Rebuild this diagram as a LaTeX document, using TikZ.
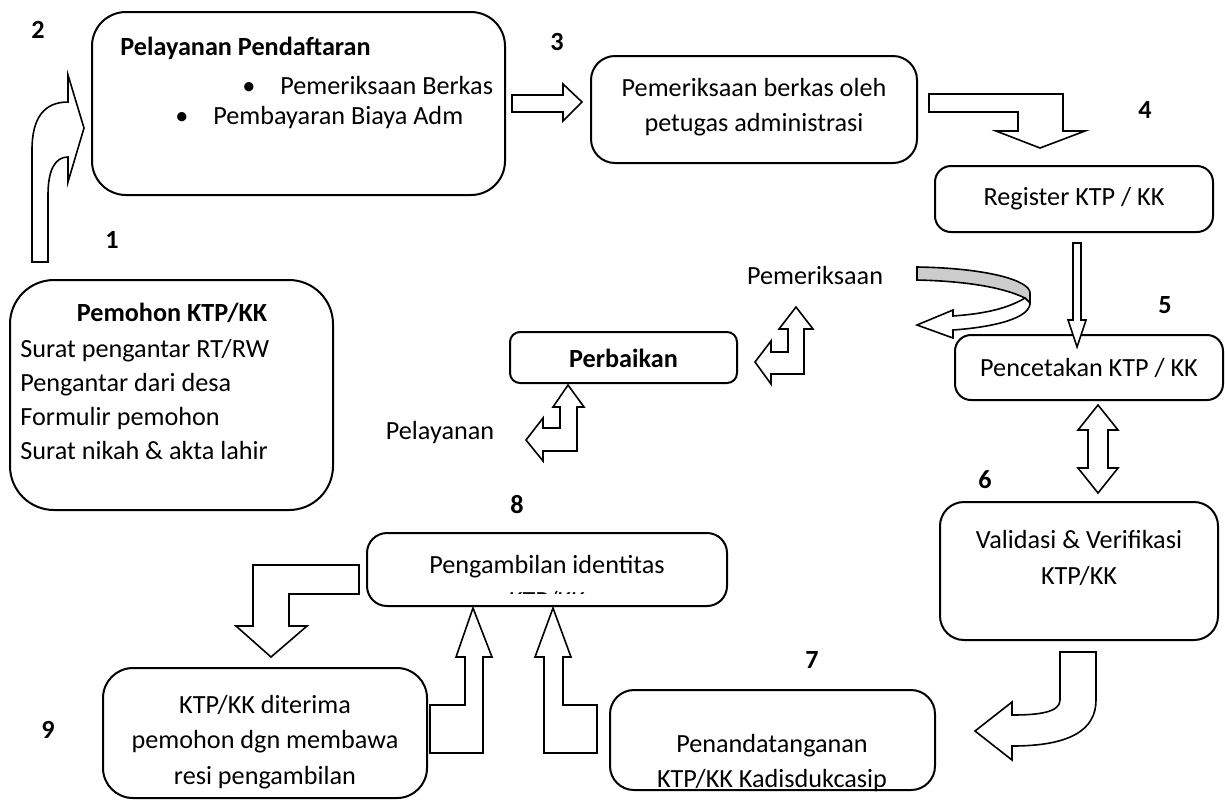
\documentclass[tikz,border=0pt]{standalone}
\usepackage{fontspec}
\setmainfont{Carlito}
\begin{document}
\begin{tikzpicture}[x=0.5pt, y=-0.5pt]
        \tikzstyle{box}=[draw, line width=1pt, rounded corners=12pt, inner sep=0pt]
        \tikzstyle{txt}=[font=\fontsize{13.1}{17.6}\selectfont, align=center, inner sep=0pt]
        \tikzstyle{num}=[font=\fontsize{13.1}{15}\selectfont\bfseries, inner sep=0pt]
        \tikzstyle{blockarrow}=[draw, line width=0.8pt, fill=white, line join=miter]

        \useasboundingbox (0,0) rectangle (1225,800);

        % boxes
        \node[box, rounded corners=22pt, minimum width=161.5pt, minimum height=115pt] (pemohon) at (171.5,395) {};
        \node[box, rounded corners=17pt, minimum width=206.5pt, minimum height=91.5pt] (daftar) at (298.5,103.5) {};
        \node[box, minimum width=163pt, minimum height=53.5pt] (periksa) at (754,109.5) {};
        \node[box, rounded corners=8pt, minimum width=139pt, minimum height=33pt] (register) at (1074,199) {};
        \node[box, rounded corners=8pt, minimum width=134pt, minimum height=32.5pt] (cetak) at (1089,367.5) {};
        \node[box, minimum width=139pt, minimum height=69pt] (validasi) at (1079,571) {};
        \node[box, minimum width=162.5pt, minimum height=50pt] (tanda) at (772.5,740) {};
        \node[box, rounded corners=10pt, minimum width=180pt, minimum height=36.5pt] (ambil) at (547,569.5) {};
        \node[box, rounded corners=15pt, minimum width=162pt, minimum height=65pt] (terima) at (265,733) {};
        \node[box, rounded corners=5pt, minimum width=113.5pt, minimum height=25.5pt] (perbaikan) at (623.5,357.5) {};

        % texts
        \node[txt] (pemohonJudul) at (172,313) {\bfseries Pemohon KTP/KK};
        \node[txt, align=left, anchor=west, font=\fontsize{13.1}{17}\selectfont] (pemohonIsi) at (20,399)
            {Surat pengantar RT/RW\\Pengantar dari desa\\Formulir pemohon\\Surat nikah \& akta lahir};
        \node[txt, anchor=west] (daftarJudul) at (120,48) {\bfseries Pelayanan Pendaftaran};
        \node[txt, anchor=west] (daftarBerkas) at (242,85) {\makebox[19pt][l]{\textbullet}Pemeriksaan Berkas};
        \node[txt, anchor=west] (daftarBiaya) at (175,118) {\makebox[19pt][l]{\textbullet}Pembayaran Biaya Adm};
        \node[txt] (periksaTxt) at (754,107) {Pemeriksaan berkas oleh\\petugas administrasi};
        \node[txt] (registerTxt) at (1074,199) {Register KTP / KK};
        \node[txt] (cetakTxt) at (1089,368) {Pencetakan KTP / KK};
        \node[txt] (validasiTxt) at (1079,558) {Validasi \& Verifikasi\\KTP/KK};
        \node[txt] (tandaTxt) at (772,763) {Penandatanganan\\KTP/KK Kadisdukcasip};
        \node[txt] (terimaTxt) at (265,742) {KTP/KK diterima\\pemohon dgn membawa\\resi pengambilan};
        \node[txt] (perbaikanTxt) at (623.5,358) {\bfseries Perbaikan};
        \begin{scope}
            \clip (367,533) rectangle (727,593);
            \node[txt] (ambilTxt) at (547,583) {Pengambilan identitas\\KTP/KK};
        \end{scope}
        \node[txt] (pemeriksaan) at (815,275) {Pemeriksaan};
        \node[txt] (pelayanan) at (440,433) {Pelayanan};

        % step numbers
        \node[num] (n1) at (112,240) {1};
        \node[num] (n2) at (38,30) {2};
        \node[num] (n3) at (557,42) {3};
        \node[num] (n4) at (1145,110) {4};
        \node[num] (n5) at (1165,305) {5};
        \node[num] (n6) at (985,480) {6};
        \node[num] (n7) at (812,660) {7};
        \node[num] (n8) at (517,505) {8};
        \node[num] (n9) at (48,730) {9};

        % block arrows
        \draw[blockarrow] (32,262) -- (32,150) .. controls (32,118) and (44,102) .. (68,102) -- (68,75) -- (84,128) -- (68,182) -- (68,157) .. controls (55,157) and (48,170) .. (48,195) -- (48,262) -- cycle;
        \draw[blockarrow] (512,95) -- (563,95) -- (563,84) -- (582,102) -- (563,121) -- (563,112) -- (512,112) -- cycle;
        \draw[blockarrow] (929,94) -- (1063,94) -- (1063,131) -- (1085,131) -- (1040,148) -- (996,131) -- (1018,131) -- (1018,112) -- (929,112) -- cycle;
        \draw[blockarrow] (1073,243) -- (1081,243) -- (1081,320) -- (1086,320) -- (1077,347) -- (1068,320) -- (1073,320) -- cycle;
        \draw[blockarrow] (1098,405) -- (1118,430) -- (1108,430) -- (1108,468) -- (1118,468) -- (1098,493) -- (1078,468) -- (1088,468) -- (1088,430) -- (1078,430) -- cycle;
        \draw[blockarrow] (1060,652) -- (1060,700) .. controls (1060,712) and (1040,715) .. (1012,715) -- (1012,702) -- (975,731) -- (1012,760) -- (1012,746) .. controls (1070,746) and (1096,730) .. (1096,700) -- (1096,652) -- cycle;
        \draw[blockarrow] (597,753) -- (544,753) -- (544,657) -- (535,657) -- (553,608) -- (571,657) -- (563,657) -- (563,705) -- (597,705) -- cycle;
        \draw[blockarrow] (430,705) -- (465,705) -- (465,657) -- (456,657) -- (473,608) -- (492,657) -- (483,657) -- (483,753) -- (430,753) -- cycle;
        \draw[blockarrow] (359,565) -- (359,594) -- (289,594) -- (289,626) -- (307,626) -- (271,657) -- (236,626) -- (253,626) -- (253,565) -- cycle;

        % perbaikan loop
        \draw[blockarrow] (755,362) -- (771,341) -- (771,352) -- (788,352) -- (788,329) -- (779,329) -- (796,307) -- (813,329) -- (804,329) -- (804,374) -- (771,374) -- (771,384) -- cycle;
        \draw[blockarrow] (568,385) -- (584,407) -- (577,407) -- (577,451) -- (543,451) -- (543,461) -- (526,440) -- (543,418) -- (543,428) -- (560,428) -- (560,407) -- (553,407) -- cycle;
        \draw[blockarrow, fill=black!20] (917,267) .. controls (985,268) and (1030,280) .. (1030,293) -- (1030,303) -- (1025,298) .. controls (1000,286) and (960,281) .. (917,280) -- cycle;
        \draw[blockarrow] (1025,298) .. controls (1005,310) and (980,314) .. (953,316) -- (953,310) -- (917,325) -- (953,338) -- (953,330) .. controls (995,327) and (1030,318) .. (1030,303) -- cycle;
\end{tikzpicture}
\end{document}
